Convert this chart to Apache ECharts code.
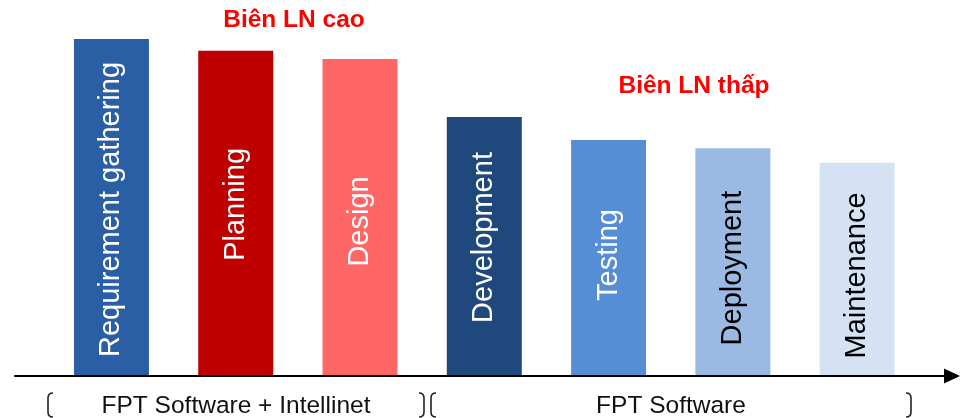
<!DOCTYPE html>
<html>
<head>
<meta charset="utf-8">
<script src="https://cdn.jsdelivr.net/npm/echarts@6/dist/echarts.min.js"></script>
<style>
  html, body { margin: 0; padding: 0; background: #fff; }
  #chart { width: 967px; height: 418px; }
</style>
</head>
<body>
<div id="chart"></div>
<script>
// Software development phases, ranked by profit margin
const phases = ['Requirement gathering', 'Planning', 'Design', 'Development', 'Testing', 'Deployment', 'Maintenance'];
const margins = [96.3, 92.9, 90.6, 74, 67.4, 65.1, 60.9];

// Group captions under the axis
const groups = ['FPT Software + Intellinet', 'FPT Software'];
const notes = ['Biên LN cao', 'Biên LN thấp'];

// Styling
const barColors = ['#2A5FA5', '#BE0000', '#FF6666', '#1F497D', '#558ED5', '#9ABAE4', '#D5E2F3'];
const textColors = ['#fff', '#fff', '#fff', '#fff', '#fff', '#000', '#000'];
const labelShift = [2, -9, 4, -9, -3, 6, 6];   // downward nudge of each in-bar caption, px
const FONT = '"Liberation Sans", Arial, sans-serif';

const chart = echarts.init(document.getElementById('chart'));

// Tall thin bracket: x is the straight edge, dir = +1 for "(", -1 for ")"
function bracket(x, dir) {
  const y0 = 393, y1 = 417, c = 5 * dir;
  const stroke = { fill: 'none', stroke: '#222', lineWidth: 1.6 };
  return {
    type: 'group',
    children: [
      { type: 'bezierCurve', shape: { x1: x + c, y1: y0, cpx1: x, cpy1: y0, x2: x, y2: y0 + 5 }, style: stroke },
      { type: 'line', shape: { x1: x, y1: y0 + 5, x2: x, y2: y1 - 5 }, style: stroke },
      { type: 'bezierCurve', shape: { x1: x, y1: y1 - 5, cpx1: x, cpy1: y1, x2: x + c, y2: y1 }, style: stroke }
    ]
  };
}

chart.setOption({
  animation: false,
  grid: [
    { left: 49.3, right: 47.7, top: 26, bottom: 42 },
    { left: 15, right: 15, top: 26, bottom: 42 }
  ],
  xAxis: [
    {
      type: 'category', data: phases, gridIndex: 0,
      axisLine: { show: false }, axisTick: { show: false }, axisLabel: { show: false }
    },
    {
      type: 'value', gridIndex: 1, min: 0, max: 1, z: 10,
      axisLine: { show: true, lineStyle: { color: '#000', width: 2 }, symbol: ['none', 'triangle'], symbolSize: [15, 16] },
      axisTick: { show: false }, axisLabel: { show: false }, splitLine: { show: false }
    }
  ],
  yAxis: [
    { type: 'value', gridIndex: 0, min: 0, max: 100, show: false },
    { type: 'value', gridIndex: 1, min: 0, max: 1, show: false }
  ],
  series: [{
    type: 'bar',
    xAxisIndex: 0, yAxisIndex: 0,
    barWidth: 75,
    data: margins.map((v, i) => ({
      value: v,
      itemStyle: { color: barColors[i] },
      // label is turned 90°, so its local x runs up the screen
      label: { color: textColors[i], offset: [-labelShift[i], 0] }
    })),
    label: {
      show: true,
      position: 'inside',
      rotate: 90,
      formatter: '{b}',
      fontFamily: FONT,
      fontSize: 29
    }
  }],
  graphic: [
    {
      type: 'text', x: 294, y: 20,
      style: { text: notes[0], fill: '#FF0000', font: 'bold 24.5px ' + FONT, align: 'center', verticalAlign: 'middle' }
    },
    {
      type: 'text', x: 694, y: 86,
      style: { text: notes[1], fill: '#FF0000', font: 'bold 24.5px ' + FONT, align: 'center', verticalAlign: 'middle' }
    },
    {
      type: 'text', x: 236, y: 406,
      style: { text: groups[0], fill: '#111', font: '24.5px ' + FONT, align: 'center', verticalAlign: 'middle' }
    },
    {
      type: 'text', x: 671, y: 406,
      style: { text: groups[1], fill: '#111', font: '24.5px ' + FONT, align: 'center', verticalAlign: 'middle' }
    },
    bracket(48, 1),
    bracket(424, -1),
    bracket(431, 1),
    bracket(911, -1)
  ]
});
</script>
</body>
</html>
